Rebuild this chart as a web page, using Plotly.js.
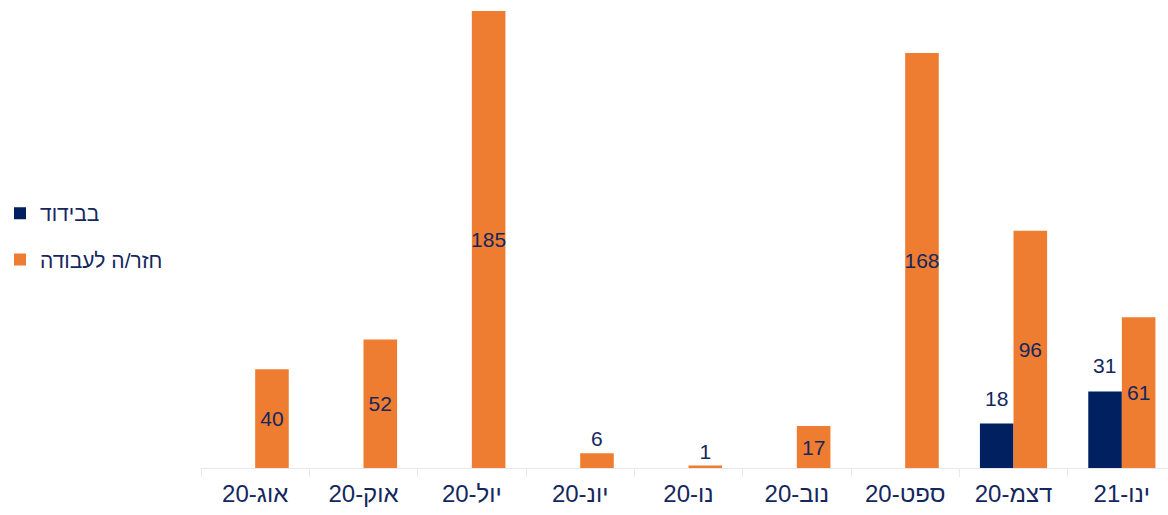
<!DOCTYPE html>
<html><head><meta charset="utf-8">
<script src="https://cdn.plot.ly/plotly-3.0.1.min.js"></script>
<style>html,body{margin:0;padding:0;background:#fff}#chart{width:1168px;height:515px}</style>
</head><body><div id="chart"></div>
<script>
var categories = ["אוג-20","אוק-20","יול-20","יונ-20","נו-20","נוב-20","ספט-20","דצמ-20","ינו-21"];
var isolated = [null,null,null,null,null,null,null,18,31];
var returned = [40,52,185,6,1,17,168,96,61];
var seriesNames = ["בבידוד","חזר/ה לעבודה"];

var textColor = '#14275E';
var font = 'Liberation Sans, Arial, sans-serif';

var trace1 = {
  type:'bar', name:seriesNames[0], x:categories, y:isolated,
  marker:{color:'#002060'},
  legendgroup:'a', hoverinfo:'x+y'
};
var trace2 = {
  type:'bar', name:seriesNames[1], x:categories, y:returned,
  marker:{color:'#EE7C31'},
  text: returned.map(String),
  textposition: returned.map(function(v){return v<10?'outside':'inside';}),
  insidetextanchor:'middle', constraintext:'none', textangle:0, cliponaxis:false,
  textfont:{family:font,size:21,color:textColor},
  legendgroup:'b', hoverinfo:'x+y'
};

var annotations = [];
categories.forEach(function(c,i){
  if (isolated[i] != null) {
    annotations.push({x:c, y:isolated[i], xref:'x', yref:'y', text:String(isolated[i]),
      showarrow:false, yanchor:'bottom', xshift:-17, yshift:12,
      font:{family:font,size:21,color:textColor}});
  }
});

var layout = {
  width:1168, height:515,
  margin:{l:201, r:0, t:11, b:47},
  paper_bgcolor:'#fff', plot_bgcolor:'#fff',
  barmode:'group', bargap:0.38, bargroupgap:0,
  font:{family:font, color:textColor},
  annotations:annotations,
  xaxis:{type:'category', range:[-0.5, 8.426], showline:true, linecolor:'#E8E8E8', linewidth:1,
    ticks:'outside', tickson:'boundaries', ticklen:8, tickcolor:'#E8E8E8', ticklabelstandoff:4,
    tickfont:{family:font,size:24,color:textColor}, showgrid:false, zeroline:false, fixedrange:true},
  yaxis:{range:[0,185], visible:false, showgrid:false, zeroline:false, fixedrange:true},
  showlegend:true,
  legend:{xref:'container', yref:'container', x:0, xanchor:'left', y:0.625, yanchor:'top',
    traceorder:'grouped', tracegroupgap:16, font:{family:font,size:21,color:textColor},
    bgcolor:'rgba(0,0,0,0)'}
};
Plotly.newPlot('chart',[trace1,trace2],layout,{displayModeBar:false,staticPlot:true});
</script></body></html>
